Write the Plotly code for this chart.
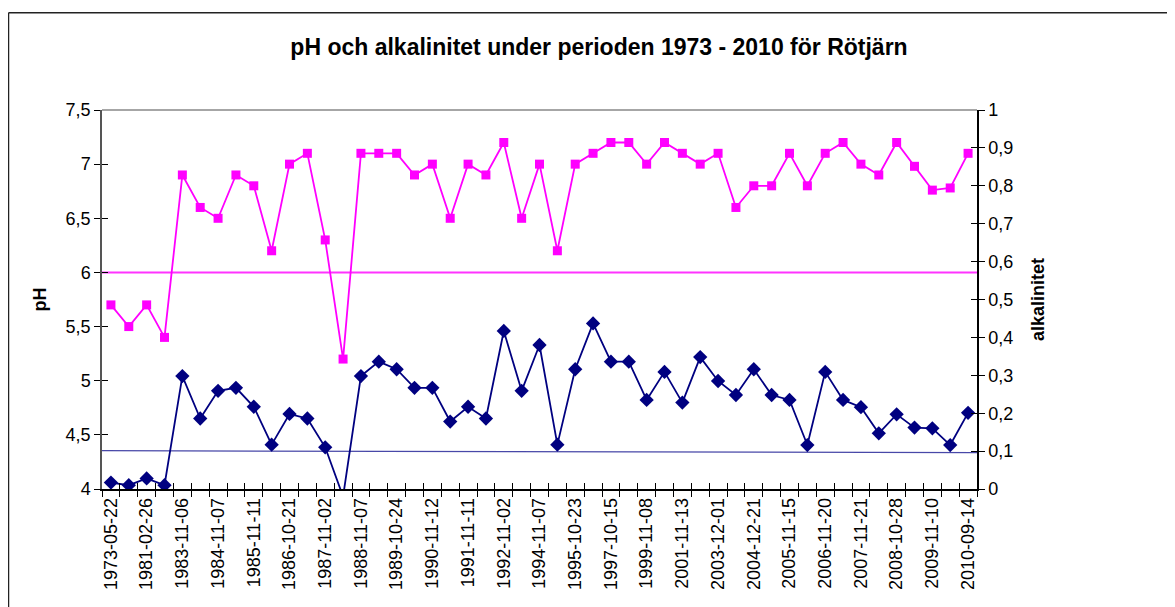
import plotly.graph_objects as go

# ---- data ----
sample_no = list(range(49))
tick_labels = ["1973-05-22", "1981-02-26", "1983-11-06", "1984-11-07", "1985-11-11",
               "1986-10-21", "1987-11-02", "1988-11-07", "1989-10-24", "1990-11-12",
               "1991-11-11", "1992-11-02", "1994-11-07", "1995-10-23", "1997-10-15",
               "1999-11-08", "2001-11-13", "2003-12-01", "2004-12-21", "2005-11-15",
               "2006-11-20", "2007-11-21", "2008-10-28", "2009-11-10", "2010-09-14"]
ph = [5.7, 5.5, 5.7, 5.4, 6.9, 6.6, 6.5, 6.9, 6.8, 6.2,
      7.0, 7.1, 6.3, 5.2, 7.1, 7.1, 7.1, 6.9, 7.0, 6.5,
      7.0, 6.9, 7.2, 6.5, 7.0, 6.2, 7.0, 7.1, 7.2, 7.2,
      7.0, 7.2, 7.1, 7.0, 7.1, 6.6, 6.8, 6.8, 7.1, 6.8,
      7.1, 7.2, 7.0, 6.9, 7.2, 6.98, 6.76, 6.78, 7.1]
alk = [0.017, 0.010, 0.028, 0.010, 0.298, 0.186, 0.259, 0.267, 0.217, 0.117,
       0.198, 0.186, 0.110, -0.02, 0.298, 0.336, 0.316, 0.267, 0.267, 0.178,
       0.217, 0.186, 0.417, 0.259, 0.380, 0.117, 0.316, 0.437, 0.336, 0.336,
       0.235, 0.309, 0.228, 0.348, 0.285, 0.248, 0.316, 0.248, 0.235, 0.116,
       0.309, 0.235, 0.216, 0.147, 0.197, 0.162, 0.160, 0.116, 0.201]
ph_limit = [6.0, 6.0]
alk_limit = [0.101, 0.096]

MAG = "#FF00FF"
NAVY = "#000080"
FONT = "Arial, Liberation Sans, sans-serif"

x_lo, x_hi = sample_no[0] - 0.5, sample_no[-1] + 0.5
bounds = [i - 0.5 for i in sample_no] + [x_hi]

W, H = 1167, 599
ML, MR, MT, MB = 94, 198, 101.5, 118
PW = W - ML - MR
PH = H - MT - MB
frame_x = (0.5 - ML) / PW
frame_y = 1 + (MT - 4) / PH

fig = go.Figure()
fig.add_trace(go.Scatter(x=[x_lo, x_hi], y=ph_limit, mode="lines",
                         line=dict(color="#FF33FF", width=2), showlegend=False, hoverinfo="skip"))
fig.add_trace(go.Scatter(x=[x_lo, x_hi], y=alk_limit, mode="lines", yaxis="y2",
                         line=dict(color="#4848A8", width=1.3), showlegend=False, hoverinfo="skip"))
fig.add_trace(go.Scatter(x=sample_no, y=ph, mode="lines+markers", name="pH",
                         line=dict(color=MAG, width=1.8),
                         marker=dict(symbol="square", size=9, color=MAG), showlegend=False))
fig.add_trace(go.Scatter(x=sample_no, y=alk, mode="lines+markers", name="alkalinitet", yaxis="y2",
                         line=dict(color=NAVY, width=1.8),
                         marker=dict(symbol="diamond", size=11, color=NAVY), showlegend=False))
# helper traces so the overlay (cross-tick) axes are drawn
fig.add_trace(go.Scatter(x=[None], y=[None], xaxis="x2", yaxis="y3", showlegend=False))
fig.add_trace(go.Scatter(x=[None], y=[None], xaxis="x2", yaxis="y4", showlegend=False))

tickfont = dict(family=FONT, size=18, color="black")
fig.update_layout(
    width=W, height=H,
    margin=dict(l=ML, r=MR, t=MT, b=MB, autoexpand=False),
    paper_bgcolor="white", plot_bgcolor="white",
    font=dict(family=FONT, color="black"),
    title=dict(text="<b>pH och alkalinitet under perioden 1973 - 2010 för Rötjärn</b>",
               x=591 / W, xanchor="center", y=1 - 39 / H, yanchor="middle",
               font=dict(family=FONT, size=23, color="black")),
    xaxis=dict(range=[x_lo, x_hi], tickmode="array", tickvals=sample_no[::2], ticktext=tick_labels,
               tickangle=-90, ticks="", tickfont=tickfont, showgrid=False, zeroline=False,
               showline=True, linecolor="black", linewidth=1.5,
               minor=dict(tickmode="array", tickvals=bounds, ticks="outside", ticklen=6,
                          tickcolor="black", tickwidth=1.3)),
    xaxis2=dict(range=[x_lo, x_hi], overlaying="x", tickmode="array", tickvals=bounds,
                ticks="inside", ticklen=6, tickcolor="black", tickwidth=1.3,
                showticklabels=False, showgrid=False, zeroline=False, showline=False, side="bottom"),
    yaxis=dict(range=[4, 7.5], dtick=0.5, tick0=4, ticks="outside", ticklen=6, tickcolor="black",
               tickwidth=1.3, tickfont=tickfont,
               showgrid=False, zeroline=False, showline=True, linecolor="#555555", linewidth=1.5,
               title=dict(text="<b>pH</b>", font=dict(family=FONT, size=18), standoff=14)),
    yaxis2=dict(range=[0, 1], dtick=0.1, tick0=0, overlaying="y", side="right",
                ticks="outside", ticklen=6, tickcolor="black", tickwidth=1.3, tickfont=tickfont,
                showgrid=False, zeroline=False, showline=True, linecolor="black", linewidth=1.5,
                title=dict(text="<b>alkalinitet</b>", font=dict(family=FONT, size=18), standoff=19)),
    yaxis3=dict(range=[4, 7.5], dtick=0.5, tick0=4, overlaying="y", side="left", anchor="x2",
                ticks="inside", ticklen=6, tickcolor="black", tickwidth=1.3,
                showticklabels=False, showgrid=False, zeroline=False, showline=False),
    yaxis4=dict(range=[0, 1], dtick=0.1, tick0=0, overlaying="y", side="right", anchor="x2",
                ticks="inside", ticklen=6, tickcolor="black", tickwidth=1.3,
                showticklabels=False, showgrid=False, zeroline=False, showline=False),
    separators=", ",
    shapes=[
        dict(type="line", xref="x domain", yref="y domain", x0=0, x1=1, y0=1, y1=1,
             line=dict(color="#888888", width=1.5)),
        dict(type="line", xref="paper", yref="paper", x0=frame_x, x1=frame_x,
             y0=-0.5, y1=frame_y, line=dict(color="#222222", width=1.5), layer="below"),
        dict(type="line", xref="paper", yref="paper", x0=frame_x, x1=1.4,
             y0=frame_y, y1=frame_y, line=dict(color="#222222", width=1.5), layer="below"),
    ],
)

fig.write_html("out.html")
